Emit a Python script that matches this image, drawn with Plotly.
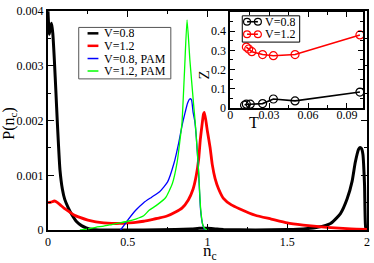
import plotly.graph_objects as go

# ---------------- data ----------------
n_black = [0, 0.008, 0.015, 0.022, 0.03, 0.04, 0.05, 0.058, 0.065, 0.075, 0.09, 0.105, 0.125, 0.15,
           0.18, 0.21, 0.24, 0.28, 0.32, 0.4, 0.6, 0.8, 0.9, 0.95, 1.0, 1.05, 1.1, 1.3, 1.5, 1.6,
           1.69, 1.772, 1.834, 1.876, 1.907, 1.927, 1.948, 1.957, 1.966, 1.975, 1.985, 1.992, 2.0]
p_black = [0.0040, 0.00358, 0.0037, 0.00378, 0.0036, 0.0031, 0.0025, 0.0020, 0.0016, 0.0011, 0.00075,
           0.00056, 0.00042, 0.00028, 0.00015, 0.00008, 0.00004, 0.00001, 0, 0, 0, 0.00001, 0.00002,
           0.00003, 0.00003, 0.00002, 0.00001, 0, 0.00001, 0.00002, 0.00005, 0.00012, 0.0003, 0.00057,
           0.00089, 0.00124, 0.00148, 0.00151, 0.00149, 0.00138, 0.00083, 0.00005, 0]

n_red = [0, 0.02, 0.04, 0.06, 0.08, 0.1, 0.13, 0.16, 0.2, 0.25, 0.3, 0.35, 0.4, 0.45, 0.5, 0.55, 0.6,
         0.65, 0.7, 0.75, 0.8, 0.84, 0.88, 0.91, 0.93, 0.945, 0.955, 0.965, 0.975, 0.98, 0.99, 1.0,
         1.017, 1.03, 1.048, 1.07, 1.1, 1.15, 1.2, 1.3, 1.4, 1.5, 1.6, 1.7, 1.8, 1.9, 2.0]
p_red = [0.0005, 0.00051, 0.00053, 0.0005, 0.00045, 0.0004, 0.00034, 0.00028, 0.00023, 0.00018,
         0.00015, 0.00013, 0.00012, 0.00012, 0.00013, 0.00014, 0.00016, 0.00019, 0.00022, 0.00026,
         0.00033, 0.0004, 0.00055, 0.00075, 0.001, 0.0013, 0.00165, 0.0019, 0.00212, 0.00215,
         0.0020, 0.0018, 0.0015, 0.0012, 0.00094, 0.00075, 0.00058, 0.00046, 0.00039, 0.00027,
         0.0002, 0.00013, 0.00009, 0.00006, 0.00004, 0.00002, 0.00001]

n_blue = [0.455, 0.48, 0.5, 0.55, 0.6, 0.65, 0.7, 0.75, 0.79, 0.82, 0.84, 0.86, 0.875, 0.89, 0.9,
          0.91, 0.92, 0.93, 0.944, 0.957, 0.97, 0.98, 0.985]
p_blue = [0, 0.0001, 0.00018, 0.00036, 0.0005, 0.0006, 0.0007, 0.00088, 0.00122, 0.0016, 0.0019,
          0.00215, 0.00232, 0.0024, 0.00238, 0.00215, 0.002, 0.0017, 0.00107, 0.00036, 0.0001,
          0.00002, 0]

n_green = [0.2, 0.25, 0.3, 0.35, 0.4, 0.45, 0.5, 0.55, 0.6, 0.634, 0.68, 0.737, 0.78, 0.81, 0.83,
           0.84, 0.856, 0.872, 0.89, 0.913, 0.925, 0.944, 0.957, 0.97, 0.985, 1.0]
p_green = [0, 0.00002, 0.00005, 0.00007, 0.0001, 0.00013, 0.00016, 0.0002, 0.00026, 0.00036,
           0.00045, 0.00059, 0.00085, 0.00124, 0.0017, 0.00195, 0.0029, 0.00384, 0.0031, 0.0023,
           0.0019, 0.0011, 0.0004, 0.0001, 0.00002, 0]

T_v08 = [0.0111, 0.0125, 0.0155, 0.025, 0.0333, 0.05, 0.1]
Z_v08 = [0.015, 0.02, 0.02, 0.023, 0.047, 0.037, 0.083]
T_v12 = [0.0125, 0.0143, 0.0167, 0.025, 0.0333, 0.05, 0.1]
Z_v12 = [0.317, 0.307, 0.293, 0.278, 0.272, 0.278, 0.38]

main_names = ["V=0.8", "V=1.2", "V=0.8, PAM", "V=1.2, PAM"]
main_colors = ["black", "red", "blue", "#00ff00"]
main_widths = [3, 2.8, 1.3, 1.3]
inset_names = ["V=0.8", "V=1.2"]
inset_colors = ["black", "red"]

x_tickvals = [0, 0.5, 1, 1.5, 2]
x_ticktext = ["0", "0.5", "1", "1.5", "2"]
y_tickvals = [0, 0.001, 0.002, 0.003, 0.004]
y_ticktext = ["0", "0.001", "0.002", "0.003", "0.004"]
x2_tickvals = [0, 0.03, 0.06, 0.09]
x2_ticktext = ["0", "0.03", "0.06", "0.09"]
y2_tickvals = [0, 0.1, 0.2, 0.3, 0.4]
y2_ticktext = ["0", "0.1", "0.2", "0.3", "0.4"]

FONT = "Liberation Serif"

fig = go.Figure()
series = [(n_black, p_black), (n_red, p_red), (n_blue, p_blue), (n_green, p_green)]
for (xs, ys), nm, c, w in zip(series, main_names, main_colors, main_widths):
    fig.add_trace(go.Scatter(x=xs, y=ys, name=nm, mode="lines",
                             line=dict(color=c, width=w, shape="spline", smoothing=0.5),
                             xaxis="x", yaxis="y", showlegend=False, hoverinfo="skip"))

for (ts, zs), nm, c in zip([(T_v08, Z_v08), (T_v12, Z_v12)], inset_names, inset_colors):
    fig.add_trace(go.Scatter(x=ts, y=zs, name=nm, mode="lines+markers",
                             line=dict(color=c, width=1.6),
                             marker=dict(symbol="circle-open", size=8, color=c, line=dict(width=1.2)),
                             xaxis="x2", yaxis="y2", showlegend=False, hoverinfo="skip"))

axis_common = dict(showline=True, linecolor="black", mirror="allticks", ticks="inside",
                   tickcolor="black", showgrid=False, zeroline=False, ticklabeloverflow="allow",
                   tickfont=dict(family=FONT, size=12, color="black"))

fig.update_layout(
    width=374, height=263,
    margin=dict(l=48, r=4, t=4, b=33),
    paper_bgcolor="white", plot_bgcolor="white",
    xaxis=dict(range=[0, 2.0005], domain=[0, 1], tickvals=x_tickvals, ticktext=x_ticktext,
               linewidth=2, ticklen=6, tickwidth=1,
               minor=dict(ticks="inside", ticklen=3, dtick=0.25, tickcolor="black"),
               anchor="y", **axis_common),
    yaxis=dict(range=[0, 0.004005], domain=[0, 1], tickvals=y_tickvals, ticktext=y_ticktext,
               linewidth=2, ticklen=6, tickwidth=1,
               minor=dict(ticks="inside", ticklen=3, dtick=0.0005, tickcolor="black"),
               anchor="x", **axis_common),
    xaxis2=dict(range=[0, 0.1025], domain=[0.571, 0.988], tickvals=x2_tickvals, ticktext=x2_ticktext,
                linewidth=1.6, ticklen=5, tickwidth=1, ticklabelstandoff=-5,
                minor=dict(ticks="inside", ticklen=3, dtick=0.015, tickcolor="black"),
                anchor="y2", **axis_common),
    yaxis2=dict(range=[0, 0.5], domain=[0.557, 0.996], tickvals=y2_tickvals, ticktext=y2_ticktext,
                linewidth=1.6, ticklen=5, tickwidth=1,
                minor=dict(ticks="inside", ticklen=3, dtick=0.05, tickcolor="black"),
                anchor="x2", **axis_common),
)

shapes = []
annotations = []
# main legend
shapes.append(dict(type="rect", xref="paper", yref="paper", x0=0.0963, x1=0.385, y0=0.690, y1=0.925,
                   line=dict(color="#555555", width=1), fillcolor="rgba(0,0,0,0)"))
rows = [0.898, 0.841, 0.783, 0.726]
for yy, nm, c, w in zip(rows, main_names, main_colors, main_widths):
    shapes.append(dict(type="line", xref="paper", yref="paper", x0=0.124, x1=0.158, y0=yy, y1=yy,
                       line=dict(color=c, width=2.5 if w > 2 else 1.5)))
    annotations.append(dict(text=nm, xref="paper", yref="paper", x=0.171, y=yy, xanchor="left",
                            yanchor="middle", showarrow=False, height=12, borderpad=0,
                            font=dict(family=FONT, size=12, color="black")))

# inset legend
shapes.append(dict(type="rect", xref="paper", yref="paper", x0=0.609, x1=0.789, y0=0.858, y1=0.978,
                   line=dict(color="black", width=1), fillcolor="white"))
irows = [0.951, 0.894]
rx = 3.5 / 322
ry = 3.5 / 226
for yy, nm, c in zip(irows, inset_names, inset_colors):
    shapes.append(dict(type="line", xref="paper", yref="paper", x0=0.624, x1=0.658, y0=yy, y1=yy,
                       line=dict(color=c, width=1.6)))
    for cx in (0.624, 0.658):
        shapes.append(dict(type="circle", xref="paper", yref="paper", x0=cx - rx, x1=cx + rx,
                           y0=yy - ry, y1=yy + ry, line=dict(color=c, width=1.2)))
    annotations.append(dict(text=nm, xref="paper", yref="paper", x=0.677, y=yy, xanchor="left",
                            yanchor="middle", showarrow=False, height=12, borderpad=0,
                            font=dict(family=FONT, size=12, color="black")))

# axis titles
annotations.append(dict(text="P(n<sub>c</sub>)", xref="paper", yref="paper", x=-0.121, y=0.487,
                        textangle=-90, showarrow=False, xanchor="center", yanchor="middle",
                        font=dict(family=FONT, size=16, color="black")))
annotations.append(dict(text="n<sub>c</sub>", xref="paper", yref="paper", x=0.509, y=-0.0996,
                        showarrow=False, xanchor="center", yanchor="middle", borderpad=0, height=16,
                        font=dict(family=FONT, size=17, color="black")))
annotations.append(dict(text="Z", xref="paper", yref="paper", x=0.49, y=0.707,
                        textangle=-90, showarrow=False, xanchor="center", yanchor="middle",
                        font=dict(family=FONT, size=15, color="black")))
annotations.append(dict(text="T", xref="paper", yref="paper", x=0.646, y=0.491,
                        showarrow=False, xanchor="center", yanchor="middle",
                        font=dict(family=FONT, size=16, color="black")))

fig.update_layout(shapes=shapes, annotations=annotations)
fig.write_html("out.html", config={"displayModeBar": False},
               post_script="document.body.style.margin='0px';document.body.style.padding='0px';")
